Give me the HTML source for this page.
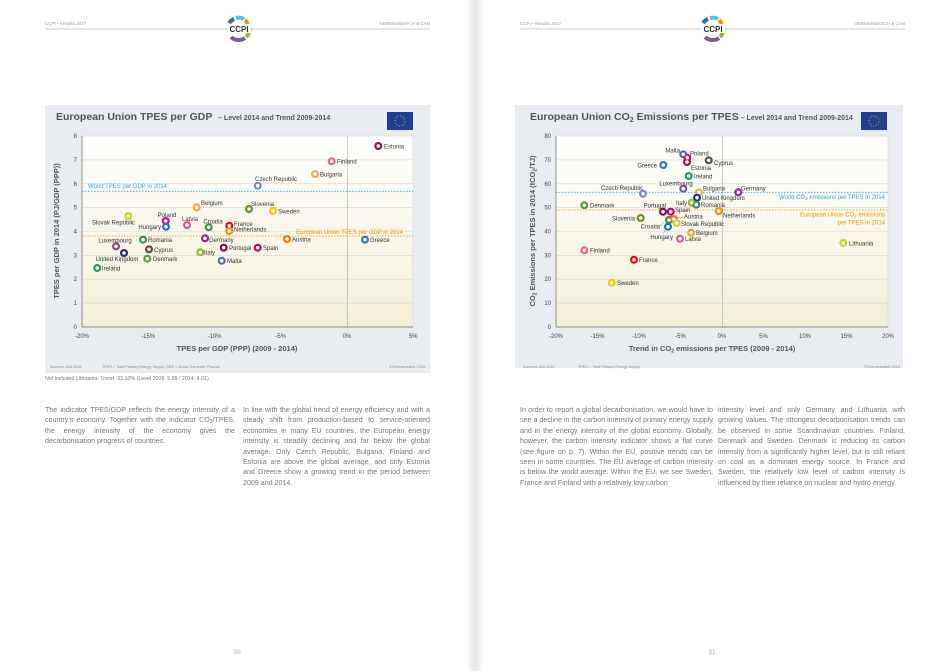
<!DOCTYPE html>
<html><head><meta charset="utf-8"><style>
html,body{margin:0;padding:0;background:#fff;}
body{width:950px;height:671px;position:relative;overflow:hidden;font-family:"Liberation Sans",sans-serif;}
.col{position:absolute;font-size:7.1px;line-height:10.4px;color:#777;text-align:justify;}
.col sub{font-size:5px;line-height:0;vertical-align:-1px;}
svg{position:absolute;left:0;top:0;}
</style></head><body>
<svg width="950" height="671" viewBox="0 0 950 671" font-family="Liberation Sans, sans-serif">
<defs>
<linearGradient id="pg" x1="0" y1="0" x2="0" y2="1">
<stop offset="0" stop-color="#ffffff"/><stop offset="1" stop-color="#f3efd6"/></linearGradient>
<linearGradient id="gut" x1="0" y1="0" x2="1" y2="0">
<stop offset="0" stop-color="#fff"/><stop offset="0.5" stop-color="#e6e6e6"/><stop offset="1" stop-color="#fff"/></linearGradient>
</defs>
<rect x="466" y="0" width="18" height="671" fill="url(#gut)"/>
<g font-size="4.5" fill="#999">
<text x="45" y="25">CCPI • Results 2017</text>
<text x="430" y="25" text-anchor="end">GERMANWATCH &amp; CAN</text>
<text x="520" y="25">CCPI • Results 2017</text>
<text x="905" y="25" text-anchor="end">GERMANWATCH &amp; CAN</text>
</g>
<line x1="45" y1="29" x2="430" y2="29" stroke="#ccc" stroke-width="1"/>
<line x1="520" y1="29" x2="905" y2="29" stroke="#ccc" stroke-width="1"/>
<g id="logo1" transform="translate(239,29)">
<circle r="12" fill="#fff"/>
<path d="M-10,-6 A11,11 0 0 1 -5,-10" stroke="#2a6db5" stroke-width="4" fill="none"/>
<path d="M-3,-11 A11,11 0 0 1 5,-10" stroke="#5bc0e8" stroke-width="4" fill="none"/>
<path d="M6,-9 A11,11 0 0 1 9,-5" stroke="#f39200" stroke-width="4" fill="none"/>
<path d="M10,-3 A11,11 0 0 1 7,8" stroke="#8cbf26" stroke-width="4" fill="none"/>
<path d="M6,9 A11,11 0 0 1 -8,8" stroke="#7b5aa6" stroke-width="4" fill="none"/>
<rect x="-12" y="-5" width="24" height="9" fill="#fff"/>
<text y="3" text-anchor="middle" font-size="8" font-weight="bold" fill="#333">CCPI</text>
</g>
<use href="#logo1" transform="translate(474,0)"/>

<!-- LEFT CHART -->
<rect x="45" y="105" width="385" height="268" fill="#e9edf1"/>
<rect x="82" y="136" width="331" height="191" fill="url(#pg)"/>
<text x="56" y="120" font-size="10.5" font-weight="bold" fill="#555">European Union TPES per GDP <tspan font-size="7" dx="3">– Level 2014 and Trend 2009-2014</tspan></text>
<rect x="387" y="112" width="26" height="18" fill="#1f3f94"/>
<circle cx="400" cy="121" r="5" fill="none" stroke="#ffcc00" stroke-width="1" stroke-dasharray="0.8 1.8"/>
<g stroke="#d6d6d6" stroke-width="0.6">
<line x1="82" y1="303.1" x2="413" y2="303.1"/><line x1="82" y1="279.2" x2="413" y2="279.2"/>
<line x1="82" y1="255.4" x2="413" y2="255.4"/><line x1="82" y1="231.5" x2="413" y2="231.5"/>
<line x1="82" y1="207.6" x2="413" y2="207.6"/><line x1="82" y1="183.8" x2="413" y2="183.8"/>
<line x1="82" y1="159.9" x2="413" y2="159.9"/><line x1="82" y1="136" x2="413" y2="136"/>
<line x1="413" y1="136" x2="413" y2="327"/>
</g>
<line x1="347.7" y1="136" x2="347.7" y2="327" stroke="#aaa" stroke-width="0.6"/>
<line x1="82" y1="136" x2="82" y2="327" stroke="#666" stroke-width="0.7"/>
<line x1="82" y1="327" x2="413" y2="327" stroke="#666" stroke-width="0.7"/>
<g font-size="6" fill="#444" text-anchor="end">
<text x="77" y="329">0</text><text x="77" y="305">1</text><text x="77" y="281">2</text><text x="77" y="257.5">3</text>
<text x="77" y="233.5">4</text><text x="77" y="209.5">5</text><text x="77" y="186">6</text><text x="77" y="162">7</text><text x="77" y="138">8</text>
</g>
<g font-size="6" fill="#444" text-anchor="middle">
<text x="82" y="338">-20%</text><text x="148.2" y="338">-15%</text><text x="214.5" y="338">-10%</text>
<text x="280.7" y="338">-5%</text><text x="347" y="338">0%</text><text x="413.3" y="338">5%</text>
</g>
<text x="237" y="351" font-size="7.5" font-weight="bold" fill="#555" text-anchor="middle">TPES per GDP (PPP)  (2009 - 2014)</text>
<text transform="translate(59,231) rotate(-90)" font-size="7.5" font-weight="bold" fill="#555" text-anchor="middle">TPES per GDP in 2014 (PJ/GDP (PPP))</text>
<line x1="82" y1="191.3" x2="413" y2="191.3" stroke="#29abe2" stroke-width="0.8" stroke-dasharray="1.5 1.5"/>
<line x1="82" y1="236" x2="413" y2="236" stroke="#f39200" stroke-width="0.8" stroke-dasharray="1.5 1.5"/>
<text x="88" y="188" font-size="6" fill="#29abe2">World TPES per GDP in 2014</text>
<text x="403" y="234" font-size="6" fill="#f39200" text-anchor="end">European Union TPES per GDP in 2014</text>
<g font-size="6" fill="#333">
<g fill="#8e1550"><circle cx="378.3" cy="146" r="4"/></g><text x="384" y="148.5">Estonia</text>
<g fill="#e8698f"><circle cx="331.7" cy="161.3" r="4"/></g><text x="337" y="163.5">Finland</text>
<g fill="#f7a75b"><circle cx="315" cy="174" r="4"/></g><text x="320" y="176.5">Bulgaria</text>
<g fill="#7d89bd"><circle cx="257.7" cy="185.7" r="4"/></g><text x="276" y="181" text-anchor="middle">Czech Republic</text>
<g fill="#f5a623"><circle cx="196.7" cy="207.3" r="4"/></g><text x="201" y="205">Belgium</text>
<g fill="#6b8e23"><circle cx="249" cy="209" r="4"/></g><text x="251" y="206">Slovenia</text>
<g fill="#f7c600"><circle cx="273" cy="211" r="4"/></g><text x="278" y="213.5">Sweden</text>
<g fill="#c8d42a"><circle cx="128.3" cy="216" r="4"/></g><text x="135" y="224.5" text-anchor="end">Slovak Republic</text>
<g fill="#e6007e"><circle cx="165.7" cy="221" r="4"/></g><text x="167" y="217" text-anchor="middle">Poland</text>
<g fill="#d2589a"><circle cx="187" cy="225" r="4"/></g><text x="190" y="221" text-anchor="middle">Latvia</text>
<g fill="#3e8e41"><circle cx="208.7" cy="227.3" r="4"/></g><text x="213" y="223.5" text-anchor="middle">Croatia</text>
<g fill="#e30613"><circle cx="229.3" cy="225.7" r="4"/></g><text x="234" y="226">France</text>
<g fill="#f39200"><circle cx="229.3" cy="231" r="4"/></g><text x="234" y="231.5">Netherlands</text>
<g fill="#1d70b7"><circle cx="166" cy="226.7" r="4"/></g><text x="161" y="229" text-anchor="end">Hungary</text>
<g fill="#7a4f9b"><circle cx="116" cy="246.3" r="4"/></g><text x="115" y="242.5" text-anchor="middle">Luxembourg</text>
<g fill="#3a8a6e"><circle cx="143" cy="239.7" r="4"/></g><text x="148" y="242">Romania</text>
<g fill="#8e2a8c"><circle cx="205" cy="238.3" r="4"/></g><text x="209" y="242">Germany</text>
<g fill="#ec7a0a"><circle cx="287" cy="239" r="4"/></g><text x="292" y="241.5">Austria</text>
<g fill="#2a78c4"><circle cx="365" cy="239.7" r="4"/></g><text x="370" y="242">Greece</text>
<g fill="#1b2a80"><circle cx="124" cy="253" r="4"/></g><text x="117" y="261" text-anchor="middle">United Kingdom</text>
<g fill="#5a4a4a"><circle cx="149" cy="249.3" r="4"/></g><text x="154" y="252">Cyprus</text>
<g fill="#8cbf26"><circle cx="200.3" cy="252.3" r="4"/></g><text x="204" y="254.5">Italy</text>
<g fill="#7d0c4c"><circle cx="223.7" cy="247.7" r="4"/></g><text x="229" y="250">Portugal</text>
<g fill="#c4006a"><circle cx="257.7" cy="247.7" r="4"/></g><text x="263" y="250">Spain</text>
<g fill="#5a66ae"><circle cx="221.7" cy="260.7" r="4"/></g><text x="227" y="263">Malta</text>
<g fill="#5c9c2a"><circle cx="147.3" cy="258.7" r="4"/></g><text x="153" y="261">Denmark</text>
<g fill="#1aa060"><circle cx="97.3" cy="268" r="4"/></g><text x="102" y="270.5">Ireland</text>
</g>
<g fill="#fff">
<circle cx="378.3" cy="146" r="1.8"/><circle cx="331.7" cy="161.3" r="1.8"/><circle cx="315" cy="174" r="1.8"/><circle cx="257.7" cy="185.7" r="1.8"/><circle cx="196.7" cy="207.3" r="1.8"/><circle cx="249" cy="209" r="1.8"/><circle cx="273" cy="211" r="1.8"/><circle cx="128.3" cy="216" r="1.8"/><circle cx="165.7" cy="221" r="1.8"/><circle cx="187" cy="225" r="1.8"/><circle cx="208.7" cy="227.3" r="1.8"/><circle cx="229.3" cy="225.7" r="1.8"/><circle cx="229.3" cy="231" r="1.8"/><circle cx="166" cy="226.7" r="1.8"/><circle cx="116" cy="246.3" r="1.8"/><circle cx="143" cy="239.7" r="1.8"/><circle cx="205" cy="238.3" r="1.8"/><circle cx="287" cy="239" r="1.8"/><circle cx="365" cy="239.7" r="1.8"/><circle cx="124" cy="253" r="1.8"/><circle cx="149" cy="249.3" r="1.8"/><circle cx="200.3" cy="252.3" r="1.8"/><circle cx="223.7" cy="247.7" r="1.8"/><circle cx="257.7" cy="247.7" r="1.8"/><circle cx="221.7" cy="260.7" r="1.8"/><circle cx="147.3" cy="258.7" r="1.8"/><circle cx="97.3" cy="268" r="1.8"/>
</g>
<g font-size="3.8" fill="#888">
<text x="50" y="368">Sources: IEA 2016</text>
<text x="102" y="368">TPES = Total Primary Energy Supply, GDP = Gross Domestic Product</text>
<text x="425" y="368" text-anchor="end">©Germanwatch 2016</text>
</g>
<text x="45" y="380" font-size="5.3" fill="#777">Not included Lithuania: Trend -33.10% (Level 2009: 5.99 / 2014: 4.01)</text>

<!-- RIGHT CHART -->
<rect x="515" y="105" width="388" height="263" fill="#e9edf1"/>
<rect x="556" y="136" width="332" height="191" fill="url(#pg)"/>
<text x="530" y="120" font-size="10.5" font-weight="bold" fill="#555">European Union CO<tspan font-size="7" dy="2">2</tspan><tspan dy="-2"> Emissions per TPES</tspan><tspan font-size="7" dx="2">– Level 2014 and Trend 2009-2014</tspan></text>
<rect x="861" y="112" width="26" height="18" fill="#1f3f94"/>
<circle cx="874" cy="121" r="5" fill="none" stroke="#ffcc00" stroke-width="1" stroke-dasharray="0.8 1.8"/>
<g stroke="#d6d6d6" stroke-width="0.6">
<line x1="556" y1="303.1" x2="888" y2="303.1"/><line x1="556" y1="279.2" x2="888" y2="279.2"/>
<line x1="556" y1="255.4" x2="888" y2="255.4"/><line x1="556" y1="231.5" x2="888" y2="231.5"/>
<line x1="556" y1="207.6" x2="888" y2="207.6"/><line x1="556" y1="183.8" x2="888" y2="183.8"/>
<line x1="556" y1="159.9" x2="888" y2="159.9"/><line x1="556" y1="136" x2="888" y2="136"/>
<line x1="888" y1="136" x2="888" y2="327"/>
</g>
<line x1="722.7" y1="136" x2="722.7" y2="327" stroke="#aaa" stroke-width="0.6"/>
<line x1="556" y1="136" x2="556" y2="327" stroke="#666" stroke-width="0.7"/>
<line x1="556" y1="327" x2="888" y2="327" stroke="#666" stroke-width="0.7"/>
<g font-size="6" fill="#444" text-anchor="end">
<text x="551" y="329">0</text><text x="551" y="305">10</text><text x="551" y="281">20</text><text x="551" y="257.5">30</text>
<text x="551" y="233.5">40</text><text x="551" y="209.5">50</text><text x="551" y="186">60</text><text x="551" y="162">70</text><text x="551" y="138">80</text>
</g>
<g font-size="6" fill="#444" text-anchor="middle">
<text x="556" y="338">-20%</text><text x="597.5" y="338">-15%</text><text x="639" y="338">-10%</text><text x="680.5" y="338">-5%</text>
<text x="722" y="338">0%</text><text x="763.5" y="338">5%</text><text x="805" y="338">10%</text><text x="846.5" y="338">15%</text><text x="888" y="338">20%</text>
</g>
<text x="712" y="351" font-size="7.5" font-weight="bold" fill="#555" text-anchor="middle">Trend in CO<tspan font-size="5" dy="1.5">2</tspan><tspan dy="-1.5"> emissions per TPES (2009 - 2014)</tspan></text>
<text transform="translate(535,231) rotate(-90)" font-size="7.5" font-weight="bold" fill="#555" text-anchor="middle">CO<tspan font-size="5" dy="1.5">2</tspan><tspan dy="-1.5"> Emissions per TPES in 2014 (tCO</tspan><tspan font-size="5" dy="1.5">2</tspan><tspan dy="-1.5">/TJ)</tspan></text>
<line x1="556" y1="192.3" x2="888" y2="192.3" stroke="#29abe2" stroke-width="0.8" stroke-dasharray="1.5 1.5"/>
<line x1="556" y1="210" x2="888" y2="210" stroke="#f39200" stroke-width="0.8" stroke-dasharray="1.5 1.5"/>
<text x="885" y="199" font-size="6" fill="#29abe2" text-anchor="end">World CO<tspan font-size="4.5" dy="1">2</tspan><tspan dy="-1"> emissions per TPES in 2014</tspan></text>
<text x="885" y="216.5" font-size="6" fill="#f39200" text-anchor="end">European Union CO<tspan font-size="4.5" dy="1">2</tspan><tspan dy="-1"> emissions</tspan></text>
<text x="885" y="224.5" font-size="6" fill="#f39200" text-anchor="end">per TPES in 2014</text>
<g stroke="#555" stroke-width="0.4"><line x1="676" y1="218" x2="684" y2="217"/><line x1="664" y1="222" x2="660" y2="226"/><line x1="666" y1="229" x2="663" y2="234"/></g>
<g font-size="6" fill="#333">
<g fill="#5a66ae"><circle cx="683.3" cy="154.3" r="4"/></g><text x="680" y="152.5" text-anchor="end">Malta</text>
<g fill="#e6007e"><circle cx="687.3" cy="157.7" r="4"/></g><text x="690" y="155.5">Poland</text>
<g fill="#8e1550"><circle cx="687" cy="162" r="4"/></g><text x="691" y="170">Estonia</text>
<g fill="#5a4a4a"><circle cx="708.7" cy="160.3" r="4"/></g><text x="714" y="165">Cyprus</text>
<g fill="#2a78c4"><circle cx="663.3" cy="165" r="4"/></g><text x="657" y="167.5" text-anchor="end">Greece</text>
<g fill="#1aa060"><circle cx="688.7" cy="176" r="4"/></g><text x="694" y="178.5">Ireland</text>
<g fill="#7a4f9b"><circle cx="683.3" cy="188.7" r="4"/></g><text x="676" y="185.5" text-anchor="middle">Luxembourg</text>
<g fill="#7d89bd"><circle cx="643" cy="193.7" r="4"/></g><text x="622" y="190" text-anchor="middle">Czech Republic</text>
<g fill="#f7a75b"><circle cx="699" cy="192.3" r="4"/></g><text x="703" y="190.5">Bulgaria</text>
<g fill="#8e2a8c"><circle cx="738.3" cy="192.3" r="4"/></g><text x="741" y="190.5">Germany</text>
<g fill="#1b2a80"><circle cx="697" cy="197.7" r="4"/></g><text x="702" y="200">United Kingdom</text>
<g fill="#8cbf26"><circle cx="691.7" cy="202.7" r="4"/></g><text x="687" y="205" text-anchor="end">Italy</text>
<g fill="#3a8a6e"><circle cx="696.3" cy="204.7" r="4"/></g><text x="701" y="207">Romania</text>
<g fill="#5c9c2a"><circle cx="584.3" cy="205.3" r="4"/></g><text x="590" y="207.5">Denmark</text>
<g fill="#7d0c4c"><circle cx="663" cy="211.7" r="4"/></g><text x="666" y="207.5" text-anchor="end">Portugal</text>
<g fill="#c4006a"><circle cx="670.7" cy="211.7" r="4"/></g><text x="675" y="212">Spain</text>
<g fill="#f39200"><circle cx="718.7" cy="211" r="4"/></g><text x="723" y="217.5">Netherlands</text>
<g fill="#6b8e23"><circle cx="640.7" cy="218" r="4"/></g><text x="635" y="220.5" text-anchor="end">Slovenia</text>
<g fill="#3e8e41"><circle cx="669" cy="220" r="4"/></g><text x="660" y="228.5" text-anchor="end">Croatia</text>
<g fill="#ec7a0a"><circle cx="673.7" cy="219" r="4"/></g><text x="684" y="218.5">Austria</text>
<g fill="#c8d42a"><circle cx="676.7" cy="223" r="4"/></g><text x="681" y="226">Slovak Republic</text>
<g fill="#1d70b7"><circle cx="668" cy="226.7" r="4"/></g><text x="673" y="239" text-anchor="end">Hungary</text>
<g fill="#f5a623"><circle cx="691" cy="232.7" r="4"/></g><text x="696" y="235">Belgium</text>
<g fill="#d2589a"><circle cx="680" cy="238.7" r="4"/></g><text x="685" y="241">Latvia</text>
<g fill="#c8d42a"><circle cx="843.3" cy="243" r="4"/></g><text x="849" y="245.5">Lithuania</text>
<g fill="#e8698f"><circle cx="584.3" cy="250.3" r="4"/></g><text x="590" y="252.5">Finland</text>
<g fill="#e30613"><circle cx="634" cy="259.7" r="4"/></g><text x="639" y="262">France</text>
<g fill="#f7c600"><circle cx="611.7" cy="282.7" r="4"/></g><text x="617" y="285">Sweden</text>
</g>
<g fill="#fff">
<circle cx="683.3" cy="154.3" r="1.8"/><circle cx="687.3" cy="157.7" r="1.8"/><circle cx="687" cy="162" r="1.8"/><circle cx="708.7" cy="160.3" r="1.8"/><circle cx="663.3" cy="165" r="1.8"/><circle cx="688.7" cy="176" r="1.8"/><circle cx="683.3" cy="188.7" r="1.8"/><circle cx="643" cy="193.7" r="1.8"/><circle cx="699" cy="192.3" r="1.8"/><circle cx="738.3" cy="192.3" r="1.8"/><circle cx="697" cy="197.7" r="1.8"/><circle cx="691.7" cy="202.7" r="1.8"/><circle cx="696.3" cy="204.7" r="1.8"/><circle cx="584.3" cy="205.3" r="1.8"/><circle cx="663" cy="211.7" r="1.8"/><circle cx="670.7" cy="211.7" r="1.8"/><circle cx="718.7" cy="211" r="1.8"/><circle cx="640.7" cy="218" r="1.8"/><circle cx="669" cy="220" r="1.8"/><circle cx="673.7" cy="219" r="1.8"/><circle cx="676.7" cy="223" r="1.8"/><circle cx="668" cy="226.7" r="1.8"/><circle cx="691" cy="232.7" r="1.8"/><circle cx="680" cy="238.7" r="1.8"/><circle cx="843.3" cy="243" r="1.8"/><circle cx="584.3" cy="250.3" r="1.8"/><circle cx="634" cy="259.7" r="1.8"/><circle cx="611.7" cy="282.7" r="1.8"/>
</g>
<g font-size="3.8" fill="#888">
<text x="523" y="368">Sources: IEA 2016</text>
<text x="578" y="368">TPES = Total Primary Energy Supply</text>
<text x="900" y="368" text-anchor="end">©Germanwatch 2016</text>
</g>
<g font-size="6.5" fill="#aaa" text-anchor="middle"><text x="237" y="654">30</text><text x="712" y="654">31</text></g>
</svg>

<div class="col" style="left:45px;top:405px;width:190px;">The indicator TPES/GDP reflects the energy intensity of a country’s economy. Together with the indicator CO<sub>2</sub>/TPES, the energy intensity of the economy gives the decarbonisation progress of countries.</div>
<div class="col" style="left:243px;top:405px;width:187px;">In line with the global trend of energy efficiency and with a steady shift from production-based to service-oriented economies in many EU countries, the European energy intensity is steadily declining and far below the global average. Only Czech Republic, Bulgaria, Finland and Estonia are above the global average, and only Estonia and Greece show a growing trend in the period between 2009 and 2014.</div>
<div class="col" style="left:520px;top:405px;width:193px;">In order to report a global decarbonisation, we would have to see a decline in the carbon intensity of primary energy supply and in the energy intensity of the global economy. Globally, however, the carbon intensity indicator shows a flat curve (see figure on p. 7). Within the EU, positive trends can be seen in some countries. The EU average of carbon intensity is below the world average. Within the EU, we see Sweden, France and Finland with a relatively low carbon</div>
<div class="col" style="left:718px;top:405px;width:187px;">intensity level and only Germany and Lithuania with growing values. The strongest decarbonisation trends can be observed in some Scandinavian countries: Finland, Denmark and Sweden. Denmark is reducing its carbon intensity from a significantly higher level, but is still reliant on coal as a dominant energy source. In France and Sweden, the relatively low level of carbon intensity is influenced by their reliance on nuclear and hydro energy.</div>
</body></html>
